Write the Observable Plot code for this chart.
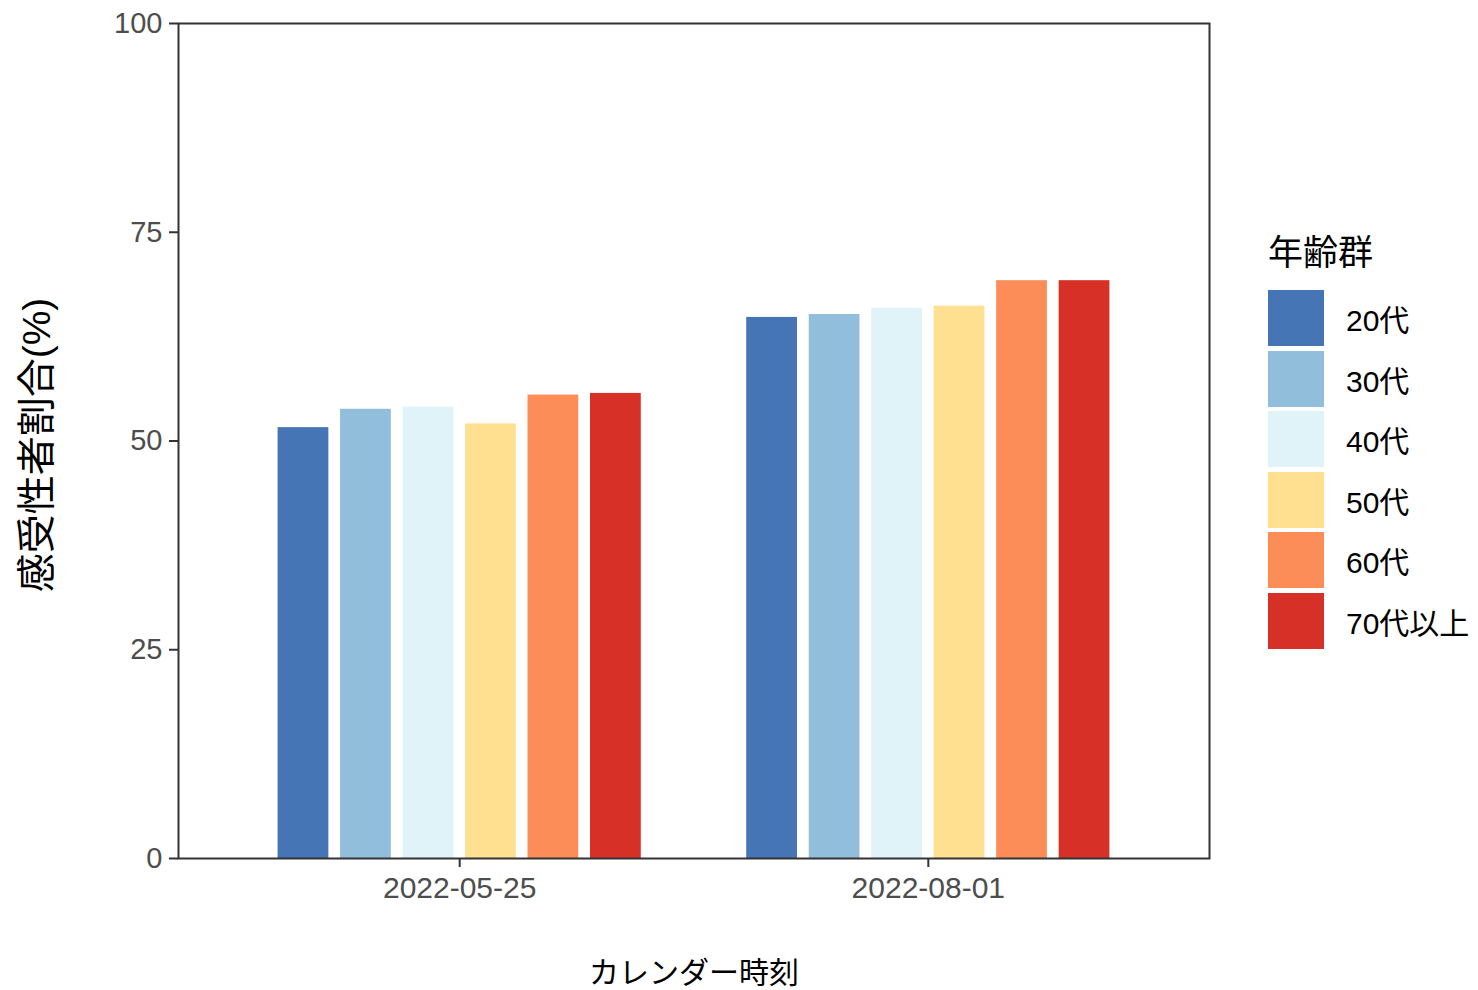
<!DOCTYPE html>
<html>
<head>
<meta charset="utf-8">
<script src="https://cdn.jsdelivr.net/npm/d3@7"></script>
<script src="https://cdn.jsdelivr.net/npm/@observablehq/plot@0.6"></script>
<style>
  html, body { margin: 0; padding: 0; background: #fff; }
  #wrap { position: relative; width: 1478px; height: 990px; font-family: "Liberation Sans", "Noto Sans CJK JP", sans-serif; }
  #legend { position: absolute; left: 1268px; top: 230px; }
  #legend .title { font-size: 35px; color: #000; height: 58px; line-height: 46px; }
  #legend .row { display: flex; align-items: center; height: 60.5px; }
  #legend .key { width: 56px; height: 56px; }
  #legend .lab { margin-left: 22px; font-size: 30px; color: #000; }
</style>
</head>
<body>
<div id="wrap"></div>
<script>
const dates = ["2022-05-25", "2022-08-01"];
const groups = ["20代", "30代", "40代", "50代", "60代", "70代以上"];
const colors = ["#4575B4", "#91BFDB", "#E0F3F8", "#FEE090", "#FC8D59", "#D73027"];
const values_20220525 = [51.6, 53.8, 54.05, 52.05, 55.5, 55.7];
const values_20220801 = [64.8, 65.15, 65.9, 66.15, 69.2, 69.2];
const yTicks = [0, 25, 50, 75, 100];
const xTitle = "カレンダー時刻";
const yTitle = "感受性者割合(%)";
const legendTitle = "年齢群";

const series = [values_20220525, values_20220801];
const dodge = 0.8, barW = 0.65 / groups.length;
const rows = [];
series.forEach((vals, d) => vals.forEach((v, g) => {
  const c = d + (g - (groups.length - 1) / 2) * dodge / groups.length;
  rows.push({date: dates[d], group: groups[g], value: v, x1: c - barW / 2, x2: c + barW / 2});
}));

const font = "'Liberation Sans', 'Noto Sans CJK JP', sans-serif";
const chart = Plot.plot({
  width: 1478,
  height: 990,
  marginLeft: 178,
  marginRight: 269,
  marginTop: 23,
  marginBottom: 132,
  style: {fontFamily: font, background: "#fff"},
  x: {type: "linear", domain: [-0.6, 1.6], axis: null},
  y: {domain: [0, 100], axis: null},
  color: {domain: groups, range: colors},
  marks: [
    Plot.rectY(rows, {x1: "x1", x2: "x2", y: "value", fill: "group"}),
    Plot.frame({stroke: "#333333", strokeWidth: 2}),
    Plot.axisY({ticks: yTicks, tickSize: 9, tickPadding: 7, fontSize: 29, stroke: "#333333", strokeWidth: 2, fill: "#4d4d4d", label: null}),
    Plot.axisX({ticks: [0, 1], tickFormat: i => dates[i], tickSize: 9, tickPadding: 9, fontSize: 30, stroke: "#333333", strokeWidth: 2, fill: "#4d4d4d", label: null}),
    Plot.text([xTitle], {frameAnchor: "bottom", dy: 124, fontSize: 30, fill: "#000", text: d => d}),
    Plot.text([yTitle], {frameAnchor: "left", dx: -141, dy: 4, rotate: -90, textAnchor: "middle", fontSize: 39, fill: "#000", text: d => d})
  ]
});
const wrap = document.getElementById("wrap");
wrap.appendChild(chart);

const legend = document.createElement("div");
legend.id = "legend";
const t = document.createElement("div");
t.className = "title";
t.textContent = legendTitle;
legend.appendChild(t);
groups.forEach((g, i) => {
  const row = document.createElement("div");
  row.className = "row";
  const k = document.createElement("div");
  k.className = "key";
  k.style.background = colors[i];
  const l = document.createElement("div");
  l.className = "lab";
  l.textContent = g;
  row.appendChild(k); row.appendChild(l);
  legend.appendChild(row);
});
wrap.appendChild(legend);
</script>
</body>
</html>
